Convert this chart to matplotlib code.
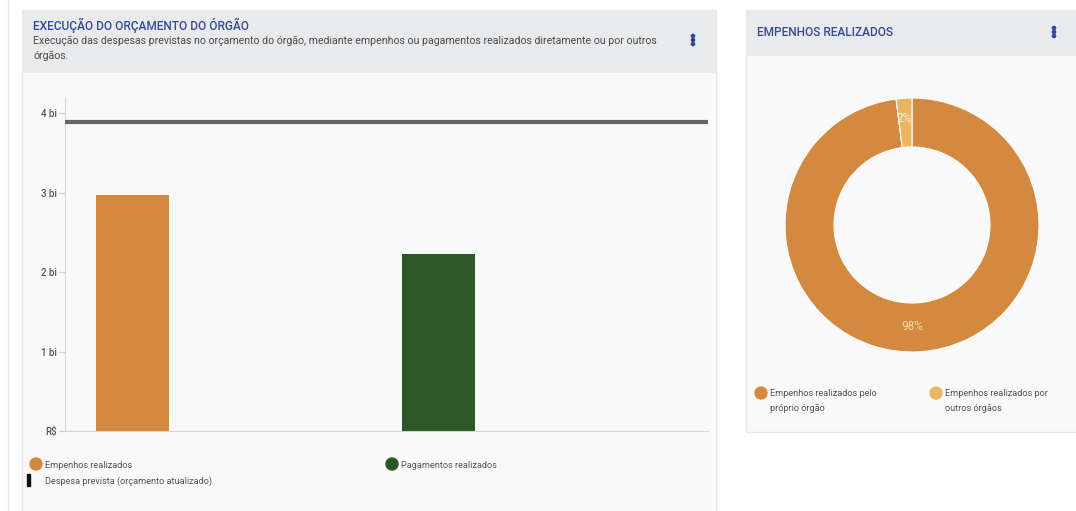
import numpy as np
from matplotlib import pyplot as plt
from matplotlib.patches import Rectangle, Circle

plt.rcParams['font.family'] = ['Roboto', 'DejaVu Sans']

# data
categorias = ['Empenhos realizados', 'Pagamentos realizados']
valores_bi = [2.97, 2.23]
despesa_prevista_bi = 3.89
yticks = [0, 1, 2, 3, 4]
ytick_labels = ['R$', '1 bi', '2 bi', '3 bi', '4 bi']

rosca_labels = ['Empenhos realizados pelo\npróprio órgão', 'Empenhos realizados por\noutros órgãos']
rosca_pct = [98, 2]

cor_laranja = '#D3893F'
cor_verde = '#2C5727'
cor_clara = '#EBB561'
cor_titulo = '#34489A'

W, H = 1076, 511
fig = plt.figure(figsize=(W / 100, H / 100), dpi=100)
fig.patch.set_facecolor('white')

def px_axes(x0, y0, x1, y1):
    return fig.add_axes([x0 / W, 1 - y1 / H, (x1 - x0) / W, (y1 - y0) / H])

# background / cards in pixel coords
bg = fig.add_axes([0, 0, 1, 1])
bg.set_xlim(0, W)
bg.set_ylim(H, 0)
bg.axis('off')
bg.axvline(8, color='#E6E6E6', lw=1)
bg.add_patch(Rectangle((22, 10), 694, 510, facecolor='#F9F9F9', edgecolor='#E8E8E8', lw=1))
bg.add_patch(Rectangle((22, 10), 694, 63, facecolor='#E9EAEC', edgecolor='none'))
bg.add_patch(Rectangle((746, 10), 340, 422, facecolor='#F9F9F9', edgecolor='#E8E8E8', lw=1))
bg.add_patch(Rectangle((746, 10), 340, 46, facecolor='#E9EAEC', edgecolor='none'))

bg.text(33, 25, 'EXECUÇÃO DO ORÇAMENTO DO ÓRGÃO', color=cor_titulo, fontsize=8.6,
        fontweight='medium', va='center')
bg.text(33, 41, 'Execução das despesas previstas no orçamento do órgão, mediante empenhos ou pagamentos realizados diretamente ou por outros',
        color='#4A4A4A', fontsize=7.6, va='center')
bg.text(33, 56, 'órgãos.', color='#4A4A4A', fontsize=7.6, va='center')
bg.text(757, 32, 'EMPENHOS REALIZADOS', color=cor_titulo, fontsize=8.6,
        fontweight='medium', va='center')
for cx, cy in [(693, 40), (1054, 32)]:
    for dy in (-4, 0, 4):
        bg.add_patch(Circle((cx, cy + dy), 1.6, color=cor_titulo))

# legends
leg_fs = 6.6
bg.add_patch(Circle((36, 464), 6, color=cor_laranja))
bg.text(45, 465, categorias[0], fontsize=leg_fs, color='#555555', va='center')
bg.add_patch(Circle((392, 464), 6, color=cor_verde))
bg.text(401, 465, categorias[1], fontsize=leg_fs, color='#555555', va='center')
bg.add_patch(Rectangle((27, 474), 3, 12, color='#111111'))
bg.text(45, 481, 'Despesa prevista (orçamento atualizado)', fontsize=leg_fs, color='#555555', va='center')

bg.add_patch(Circle((761, 393), 6, color=cor_laranja))
bg.text(770, 401, rosca_labels[0], fontsize=leg_fs, color='#555555', va='center', linespacing=1.7)
bg.add_patch(Circle((936, 393), 6, color=cor_clara))
bg.text(945, 401, rosca_labels[1], fontsize=leg_fs, color='#555555', va='center', linespacing=1.7)

# bar chart
px_per_bi = 79.5
ymax = 4.2
ax = px_axes(65, 431 - ymax * px_per_bi, 708, 431)
ax.set_facecolor('none')
x = np.arange(len(categorias))
ax.bar(x, valores_bi, width=0.2386, color=[cor_laranja, cor_verde], zorder=2)
ax.axhline(despesa_prevista_bi, color='#666666', lw=3, zorder=3)
ax.set_xlim(-67.5 / 306, (643 - 67.5) / 306)
ax.set_ylim(0, ymax)
ax.set_yticks(yticks)
ax.set_yticklabels(ytick_labels, fontsize=7, color='#555555', fontweight='medium')
ax.set_xticks([])
ax.tick_params(axis='y', length=4, color='#CCCCCC', pad=2)
for s in ['top', 'right']:
    ax.spines[s].set_visible(False)
ax.spines['left'].set_color('#D5D5D5')
ax.spines['bottom'].set_color('#D5D5D5')

# donut
R = 127
axd = px_axes(912 - R, 225 - R, 912 + R, 225 + R)
axd.set_facecolor('none')
wedges, _ = axd.pie(rosca_pct, colors=[cor_laranja, cor_clara], startangle=90, counterclock=False,
                    radius=1, wedgeprops=dict(width=49 / 127, edgecolor='white', linewidth=0.8))
axd.set_xlim(-1, 1)
axd.set_ylim(-1, 1)
axd.text(0, -0.80, f'{rosca_pct[0]}%', ha='center', va='center', color='#F3DDA8', fontsize=8.5)
axd.text(-0.06, 0.84, f'{rosca_pct[1]}%', ha='center', va='center', color='#FBF1DC', fontsize=8.5)

fig.savefig('out.png', dpi=100)
